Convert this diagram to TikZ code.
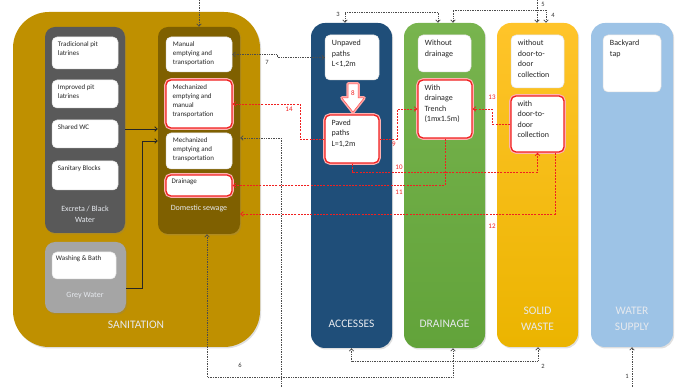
\documentclass[tikz,border=0pt]{standalone}
\usepackage{fontspec}
\setmainfont{Carlito}
\usetikzlibrary{arrows.meta,fit,shadows,calc}
\definecolor{sanc}{HTML}{BF9000}
\definecolor{domc}{HTML}{7F6000}
\definecolor{excc}{HTML}{595959}
\definecolor{greyc}{HTML}{A5A5A5}
\definecolor{accc}{HTML}{1F4E79}
\definecolor{drnt}{HTML}{78B44E}
\definecolor{drnb}{HTML}{62A33A}
\definecolor{swt}{HTML}{FFC42A}
\definecolor{swb}{HTML}{EBB400}
\definecolor{wsc}{HTML}{9DC3E6}
\definecolor{lbl}{HTML}{E6E9EE}
\definecolor{rdc}{HTML}{F02020}
\begin{document}
\begin{tikzpicture}[x=1pt,y=-1pt,
  >={Straight Barb[length=2.5pt,width=4.5pt]},
  shad/.style={drop shadow={opacity=0.25,shadow xshift=1.2pt,shadow yshift=-1.5pt}},
  colbox/.style={inner sep=0pt,rounded corners=14pt,shad},
  grpbox/.style={inner sep=0pt,rounded corners=10pt,shad},
  wbox/.style={inner sep=0pt,rounded corners=5pt,fill=white,draw=black!12,line width=0.5pt},
  rbox/.style={wbox,draw=rdc,line width=1.3pt,preaction={draw=red!30,line width=3.6pt}},
  stxt/.style={inner sep=0pt,anchor=north west,align=left,text=black!85,font=\fontsize{7}{9}\selectfont},
  ctxt/.style={inner sep=0pt,anchor=north west,align=left,text=black!85,font=\fontsize{8}{10.5}\selectfont},
  glbl/.style={inner sep=0pt,align=center,text=lbl,font=\fontsize{8}{11}\selectfont},
  clbl/.style={inner sep=0pt,align=center,text=lbl,font=\fontsize{11.5}{16}\selectfont},
  dk/.style={draw=black!70,line width=0.7pt,densely dotted},
  rd/.style={draw=rdc,line width=0.8pt,dash pattern=on 2pt off 1.2pt},
  num/.style={inner sep=0pt,text=black!80,font=\fontsize{6.5}{7}\selectfont},
  rnum/.style={inner sep=0pt,text=rdc,font=\fontsize{7}{8}\selectfont}]
\useasboundingbox (0,0) rectangle (681,387);

% ---------- SANITATION ----------
\node[inner sep=0pt,rounded corners=36pt,fill=sanc,shad,fit={(13,12)(260,347)}] (san) {};
\node[grpbox,fill=excc,fit={(45,27)(125,233)}] (exc) {};
\node[grpbox,fill=greyc,fit={(45,242)(126,313)}] (grey) {};
\node[grpbox,fill=domc,fit={(158,27)(240,234)}] (dom) {};

\node[wbox,fit={(52,37)(118,69)}] (trad) {};
\node[wbox,fit={(52,80)(118,108)}] (impr) {};
\node[wbox,fit={(52,120)(118,148)}] (wc) {};
\node[wbox,fit={(52,161)(118,190)}] (sblk) {};
\node[wbox,fit={(52,252)(116,279)}] (wash) {};
\node[wbox,fit={(166,37)(232,72)}] (manual) {};
\node[rbox,fit={(166,80)(232,128)}] (mechman) {};
\node[wbox,fit={(166,133)(232,169)}] (mecht) {};
\node[rbox,fit={(166,175)(232,196)}] (dra) {};

\node[stxt] at ([shift={(6pt,-5pt)}]trad.north west) {Tradicional pit\\latrines};
\node[stxt] at ([shift={(6pt,-5pt)}]impr.north west) {Improved pit\\latrines};
\node[stxt] at ([shift={(6pt,-5pt)}]wc.north west) {Shared WC};
\node[stxt] at ([shift={(6pt,-5pt)}]sblk.north west) {Sanitary Blocks};
\node[stxt] at ([shift={(4pt,-4pt)}]wash.north west) {Washing \& Bath};
\node[stxt] at ([shift={(7pt,-5pt)}]manual.north west) {Manual\\emptying and\\transportation};
\node[stxt] at ([shift={(7pt,-5pt)}]mechman.north west) {Mechanized\\emptying and\\manual\\transportation};
\node[stxt] at ([shift={(7pt,-5pt)}]mecht.north west) {Mechanized\\emptying and\\transportation};
\node[stxt] at ([shift={(6pt,-4pt)}]dra.north west) {Drainage};

\node[glbl] at (85,214.5) {Excreta / Black\\Water};
\node[glbl] at (85,296) {Grey Water};
\node[glbl] at (199,208) {Domestic sewage};
\node[clbl] at (136,325) {SANITATION};

% ---------- COLUMNS ----------
\node[colbox,fill=accc,fit={(311,23)(392,348)}] (acc) {};
\node[colbox,top color=drnt,bottom color=drnb,fit={(404,23)(485,348)}] (drn) {};
\node[colbox,top color=swt,bottom color=swb,fit={(497,23)(578,347)}] (sw) {};
\node[colbox,fill=wsc,fit={(591,23)(673,347)}] (ws) {};

\node[wbox,fit={(325,35)(379,80)}] (unp) {};
\node[rbox,fit={(325,115)(379,163)}] (pav) {};
\node[wbox,fit={(418,35)(471,72)}] (wod) {};
\node[rbox,fit={(418,80)(472,138)}] (wdt) {};
\node[wbox,fit={(511,35)(564,88)}] (wodd) {};
\node[rbox,fit={(511,96)(564,152)}] (wdd) {};
\node[wbox,fit={(603,35)(661,92)}] (tap) {};

\node[ctxt] at ([shift={(7pt,-5pt)}]unp.north west) {Unpaved\\paths\\L<1,2m};
\node[ctxt] at ([shift={(7pt,-5pt)}]pav.north west) {Paved\\paths\\L=1,2m};
\node[ctxt] at ([shift={(7pt,-5pt)}]wod.north west) {Without\\drainage};
\node[ctxt] at ([shift={(7pt,-5pt)}]wdt.north west) {With\\drainage\\Trench\\(1mx1.5m)};
\node[ctxt] at ([shift={(7pt,-5pt)}]wodd.north west) {without\\door-to-\\door\\collection};
\node[ctxt] at ([shift={(7pt,-5pt)}]wdd.north west) {with\\door-to-\\door\\collection};
\node[ctxt] at ([shift={(7pt,-5pt)}]tap.north west) {Backyard\\tap};

\node[clbl] at (351.5,324) {ACCESSES};
\node[clbl] at (444.5,324) {DRAINAGE};
\node[clbl] at (537.5,319) {SOLID\\WASTE};
\node[clbl] at (632,319) {WATER\\SUPPLY};

% block arrow 8
\draw[draw=red!35,line width=3.5pt,line join=round,fill=white]
  (348,84) -- (358,84) -- (358,98) -- (364,98) -- (353,112) -- (342,98) -- (348,98) -- cycle;
\draw[draw=red!70,line width=0.5pt,line join=round,fill=white]
  (348,84) -- (358,84) -- (358,98) -- (364,98) -- (353,112) -- (342,98) -- (348,98) -- cycle;
\node[rnum] at (353,93) {8};

% ---------- solid black connectors ----------
\draw[black!85,line width=0.8pt,->] (exc.east |- 0,129) -- (dom.west |- 0,129);
\draw[black!85,line width=0.8pt,->] (grey.east |- 0,288) -- (142,288) -- (142,141) -- (dom.west |- 0,141);

% ---------- dotted black connectors ----------
\coordinate (tdom) at (199,0);
\draw[dk,->] (tdom) -- (dom.north);
\draw[dk,<->] (manual.east) -- ++(45,0) |- (unp.west);
\node[num] at (267,62) {7};
\coordinate (b281) at (281,387);
\draw[dk,->] (b281) |- (dom.east |- 0,138);
\draw[dk,<->] (dom.south -| 207,0) |- (453,377) -- (drn.south -| 453,0);
\node[num] at (240,365) {6};
\draw[dk,<->] (acc.south) |- (538,361) -- (sw.south -| 538,0);
\node[num] at (543,366) {2};
\coordinate (b632) at (632,387);
\draw[dk,->] (b632) -- (ws.south);
\node[num] at (627,376) {1};
\draw[dk,<->] (acc.north -| 345,0) |- (438,12) -- (drn.north -| 438,0);
\node[num] at (338,14) {3};
\draw[dk,<->] (drn.north -| 453,0) |- (546,10) -- (sw.north -| 546,0);
\node[num] at (553,15) {4};
\coordinate (t537) at (537,0);
\draw[dk,->] (t537) -- (sw.north -| 537,0);
\node[num] at (543,4) {5};

% ---------- red dashed connectors ----------
\draw[rd,->] (pav.west) -- (300,139) |- (mechman.east);
\node[rnum] at (289,109) {14};
\draw[rd,->] (pav.east) -- (397,139) |- (wdt.west);
\node[rnum] at (394,144) {9};
\draw[rd,->] (pav.south) |- (537.5,172) -- (wdd.south);
\node[rnum] at (399,167) {10};
\draw[rd,->] (wdt.south) |- (dra.east);
\node[rnum] at (399,192) {11};
\draw[rd,->] (wdd.south -| 555,0) |- (dom.east |- 0,214);
\node[rnum] at (492,226) {12};
\draw[rd,->] (wdd.west) -- (492,124) |- (wdt.east);
\node[rnum] at (492,97) {13};
\end{tikzpicture}
\end{document}
